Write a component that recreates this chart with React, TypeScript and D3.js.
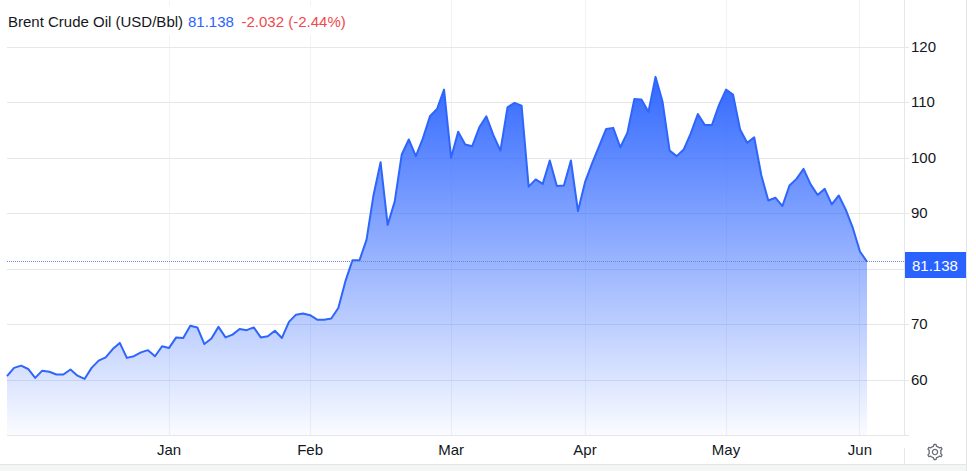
// App.tsx
import * as d3 from "d3";

const prices = [
  60.7, 62.2, 62.6, 62.0, 60.4, 61.7, 61.5, 61.0, 61.0, 61.9, 60.8, 60.2, 62.2,
  63.5, 64.1, 65.6, 66.7, 64.0, 64.3, 65.0, 65.4, 64.3, 66.1, 65.8, 67.7, 67.6,
  69.8, 69.5, 66.5, 67.5, 69.6, 67.7, 68.2, 69.2, 69.0, 69.5, 67.7, 67.9, 68.9,
  67.6, 70.5, 71.8, 72.0, 71.7, 70.9, 70.9, 71.1, 73.0, 77.8, 81.6, 81.6, 85.3,
  93.4, 99.3, 88.0, 92.2, 100.7, 103.4, 100.4, 103.6, 107.6, 108.9, 112.4, 100.1,
  104.8, 102.5, 102.2, 105.6, 107.6, 104.2, 101.4, 109.2, 110.0, 109.5, 94.9,
  96.2, 95.4, 99.6, 95.0, 95.1, 99.6, 90.5, 95.7, 99.1, 102.2, 105.3, 105.5,
  102.0, 104.6, 110.7, 110.6, 108.4, 114.7, 110.2, 101.4, 100.4, 101.6, 104.5,
  108.0, 106.0, 106.0, 109.6, 112.4, 111.5, 105.2, 102.8, 103.8, 97.0, 92.4,
  92.9, 91.4, 95.1, 96.3, 98.1, 95.3, 93.4, 94.5, 91.7, 93.3, 90.7, 87.4, 83.2,
  81.35,
];

const monthLabels = ["Jan", "Feb", "Mar", "Apr", "May", "Jun"];
// index of the first trading day of each month in prices
const monthIndex = [23, 43, 63, 82, 102, 121];
const yTicks = [60, 70, 80, 90, 100, 110, 120];
const yLabels = [60, 70, 90, 100, 110, 120];

const WIDTH = 976;
const HEIGHT = 471;
const PLOT = { left: 7, right: 904.5, top: 0, bottom: 435.5 };

const x = d3
  .scaleLinear()
  .domain([0, prices.length - 1])
  .range([7, 867]);
const y = d3.scaleLinear().domain([50, 120]).range([PLOT.bottom, 47.5]);

const area = d3
  .area<number>()
  .x((_, i) => x(i))
  .y0(PLOT.bottom)
  .y1((d) => y(d));
const line = d3
  .line<number>()
  .x((_, i) => x(i))
  .y((d) => y(d));

// settings icon outline
const gearPoints: [number, number][] = d3.range(0, 48).map((i) => {
  const a = (i / 48) * Math.PI * 2;
  const tooth = (i + 1) % 8 < 3;
  return [a, tooth ? 7.6 : 5.9];
});
const gearPath = d3.lineRadial().curve(d3.curveLinearClosed)(gearPoints) || "";

const GRID = "#e6e7ea";
const VGRID = "#f1f2f6";
const BLUE = "#2e66fb";
const FONT = "'Liberation Sans', Arial, sans-serif";

export default function App() {
  const lastY = Math.floor(y(prices[prices.length - 1])) + 0.5;
  return (
    <svg
      width={WIDTH}
      height={HEIGHT}
      style={{ position: "absolute", left: 0, top: 0, display: "block" }}
      fontFamily={FONT}
    >
      <defs>
        <linearGradient id="fill" x1="0" y1="0" x2="0" y2="1">
          <stop offset="0" stopColor="#2962ff" stopOpacity={0.96} />
          <stop offset="1" stopColor="#2962ff" stopOpacity={0.02} />
        </linearGradient>
      </defs>
      <rect width={WIDTH} height={HEIGHT} fill="#fff" />

      {/* bottom strip and right border */}
      <rect x={0} y={464.5} width={966} height={7} fill="#f4f5f5" />
      <line x1={0} x2={966} y1={464.5} y2={464.5} stroke="#e4e5e7" />
      <line x1={966.5} x2={966.5} y1={0} y2={471} stroke="#e4e5e7" />

      {/* grid */}
      {monthIndex.map((m) => (
        <line
          key={m}
          x1={Math.floor(x(m)) + 0.5}
          x2={Math.floor(x(m)) + 0.5}
          y1={PLOT.top}
          y2={PLOT.bottom}
          stroke={VGRID}
        />
      ))}
      {yTicks.map((t) => (
        <line
          key={t}
          x1={PLOT.left}
          x2={909}
          y1={Math.floor(y(t)) + 0.5}
          y2={Math.floor(y(t)) + 0.5}
          stroke={GRID}
        />
      ))}
      <line x1={PLOT.left} x2={909} y1={PLOT.bottom} y2={PLOT.bottom} stroke={GRID} />
      <line x1={PLOT.right} x2={PLOT.right} y1={0} y2={PLOT.bottom} stroke={GRID} />
      <line x1={PLOT.right} x2={PLOT.right} y1={448} y2={464} stroke={GRID} />

      {/* series */}
      <path d={area(prices) || ""} fill="url(#fill)" />
      <path
        d={line(prices) || ""}
        fill="none"
        stroke={BLUE}
        strokeWidth={2}
        strokeLinejoin="round"
      />

      {/* last price */}
      <line
        x1={PLOT.left}
        x2={PLOT.right}
        y1={lastY}
        y2={lastY}
        stroke="#6f8ad0"
        strokeDasharray="1 1"
      />
      <rect x={905} y={252} width={61} height={26} fill="#2962ff" />
      <text x={912} y={270.5} fontSize={15} fill="#fff">
        81.138
      </text>

      {/* axis labels */}
      {yLabels.map((t) => (
        <text key={t} x={911} y={y(t) + 4.5} fontSize={15} fill="#131722">
          {t}
        </text>
      ))}
      {monthLabels.map((m, i) => (
        <text
          key={m}
          x={x(monthIndex[i])}
          y={455}
          textAnchor="middle"
          fontSize={15}
          fill="#131722"
        >
          {m}
        </text>
      ))}

      {/* title */}
      <rect x={7} y={6} width={342} height={29} fill="#fff" />
      <text x={8} y={27} fontSize={15} fill="#131722">
        Brent Crude Oil (USD/Bbl)
      </text>
      <text x={188} y={27} fontSize={15} fill="#2962ff">
        81.138
      </text>
      <text x={241.5} y={27} fontSize={15} fill="#f0484e">
        -2.032 (-2.44%)
      </text>

      {/* settings */}
      <g transform="translate(935,452)" fill="none" stroke="#6a6d78" strokeWidth={1.3}>
        <path d={gearPath} strokeLinejoin="round" />
        <circle r={2.6} />
      </g>
    </svg>
  );
}
